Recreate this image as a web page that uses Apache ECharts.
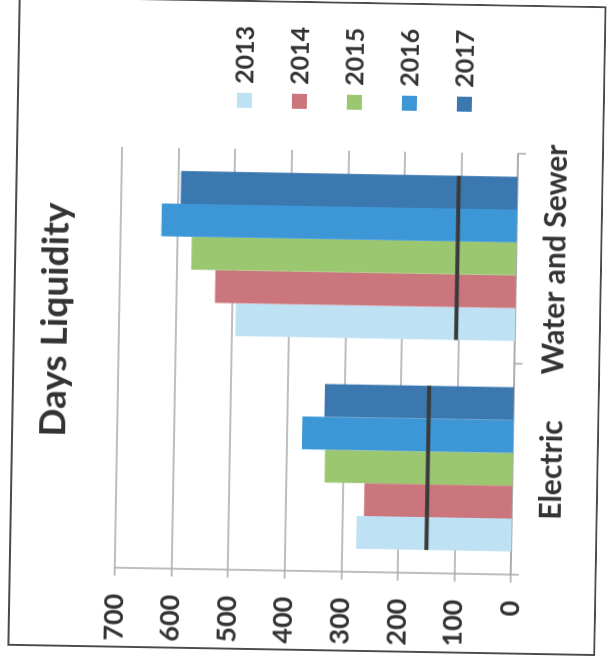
<!DOCTYPE html>
<html>
<head>
<meta charset="utf-8">
<script src="https://cdn.jsdelivr.net/npm/echarts@6/dist/echarts.min.js"></script>
<style>
  html, body { margin: 0; padding: 0; background: #ffffff; overflow: hidden; }
  body { width: 614px; height: 665px; position: relative; }
  /* The chart page is printed sideways: draw it upright, then turn the frame. */
  #frame {
    position: absolute;
    left: -18px; top: 32px;
    width: 650px; height: 588px;
    transform: rotate(-89deg);
    transform-origin: 50% 50%;
  }
  #chart { width: 650px; height: 588px; }
</style>
</head>
<body>
<div id="frame"><div id="chart"></div></div>
<script>
// Days of liquidity by utility and year
const categories = ['Electric', 'Water and Sewer'];
const years = ['2013', '2014', '2015', '2016', '2017'];
const days2013 = [274, 494];
const days2014 = [261, 531];
const days2015 = [332, 574];
const days2016 = [373, 628];
const days2017 = [334, 595];
const benchmark = [150, 104];
const valueTicks = { min: 0, max: 700, interval: 100 };

const yearValues = [days2013, days2014, days2015, days2016, days2017];
const yearColors = ['#bfe1f4', '#cb767d', '#9cc771', '#3d97d7', '#3c78b0'];
const textColor = '#333333';
const lineGray = '#a8a8a8';
const groupGap = 0.22;

const chart = echarts.init(document.getElementById('chart'), null, { renderer: 'canvas' });

const barSeries = years.map((y, i) => ({
  name: y,
  type: 'bar',
  data: yearValues[i],
  barGap: 0,
  barCategoryGap: (groupGap * 100) + '%',
  itemStyle: { color: yearColors[i] },
  emphasis: { disabled: true }
}));

const benchmarkSeries = {
  type: 'custom',
  data: benchmark.map((v, i) => [i, v]),
  z: 10,
  renderItem: function (params, api) {
    const p = api.coord([api.value(0), api.value(1)]);
    const band = api.size([1, 0])[0] * (1 - groupGap);
    return {
      type: 'line',
      shape: { x1: p[0] - band / 2, y1: p[1], x2: p[0] + band / 2, y2: p[1] },
      style: { stroke: '#3a3a3a', lineWidth: 4 }
    };
  }
};

chart.setOption({
  backgroundColor: '#ffffff',
  animation: false,
  textStyle: { fontFamily: 'Lato' },
  grid: { left: 80, right: 149, top: 106, bottom: 86 },
  legend: {
    orient: 'vertical',
    left: 537,
    top: 210,
    icon: 'rect',
    itemWidth: 15,
    itemHeight: 15,
    itemGap: 30,
    data: years,
    textStyle: { fontSize: 25, fontWeight: 'bold', color: textColor, fontFamily: 'Lato', padding: [0, 0, 0, 4] }
  },
  xAxis: {
    type: 'category',
    data: categories,
    axisLine: { show: true, lineStyle: { color: lineGray, width: 1.5 } },
    axisTick: { show: true, length: 8, lineStyle: { color: lineGray, width: 1.5 } },
    axisLabel: { interval: 0, fontSize: 30, fontWeight: 'bold', color: textColor, fontFamily: 'Lato', margin: 24 }
  },
  yAxis: {
    type: 'value',
    min: valueTicks.min,
    max: valueTicks.max,
    interval: valueTicks.interval,
    axisLine: { show: true, lineStyle: { color: lineGray, width: 1.5 } },
    axisTick: { show: true, length: 8, lineStyle: { color: lineGray, width: 1.5 } },
    splitLine: { show: true, lineStyle: { color: lineGray, width: 1.5 } },
    axisLabel: { fontSize: 27, fontWeight: 'bold', color: textColor, fontFamily: 'Lato', margin: 26 }
  },
  graphic: [
    {
      type: 'rect',
      shape: { x: 1, y: 1, width: 648, height: 586 },
      style: { fill: 'none', stroke: '#4a4a4a', lineWidth: 2 }
    },
    {
      type: 'text',
      x: 327,
      y: 42,
      style: {
        text: 'Days Liquidity',
        fontSize: 37,
        fontWeight: 'bold',
        fontFamily: 'Lato',
        fill: textColor,
        align: 'center',
        verticalAlign: 'middle'
      }
    }
  ],
  series: barSeries.concat([benchmarkSeries])
});
</script>
</body>
</html>
